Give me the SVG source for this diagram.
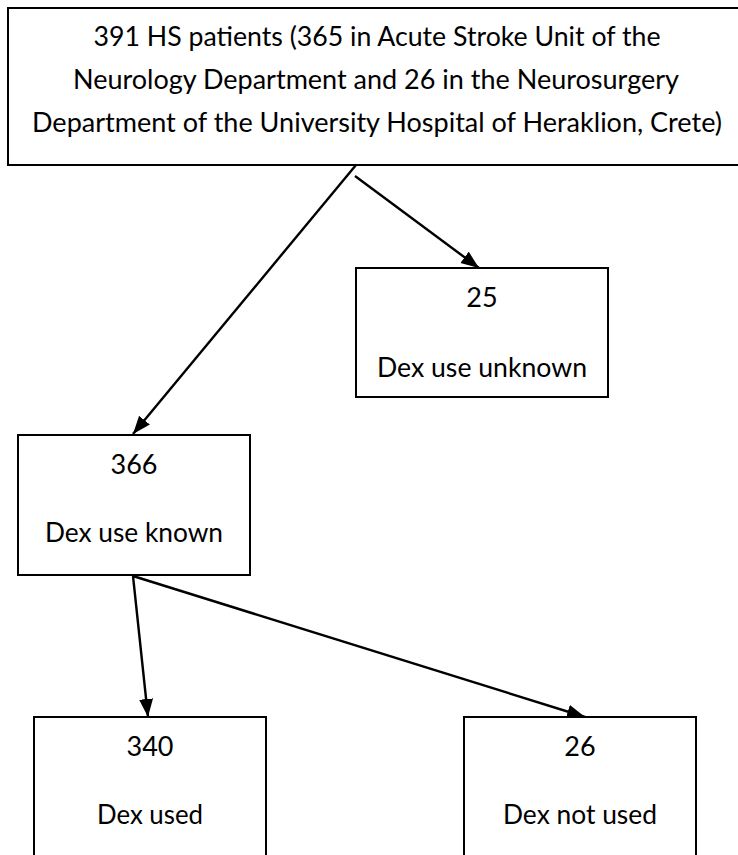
<svg xmlns="http://www.w3.org/2000/svg" width="738" height="855" viewBox="0 0 738 855">
<style>
  .box { fill: #ffffff; stroke: #000000; stroke-width: 2; }
  .t { font-family: Lato, "Open Sans", "Liberation Sans", sans-serif; font-size: 27px; fill: #000000; text-anchor: middle; }
  .link { fill: none; stroke: #000000; stroke-width: 2.4; }
</style>
<defs>
  <marker id="arrow" markerUnits="userSpaceOnUse" markerWidth="20" markerHeight="16" refX="18" refY="7" orient="auto">
    <path d="M0,0 L18,7 L0,14 z" fill="#000000"/>
  </marker>
</defs>
<rect width="738" height="855" fill="#ffffff"/>
<g id="connectors">
  <line class="link" x1="356" y1="165" x2="133" y2="434" marker-end="url(#arrow)"/>
  <line class="link" x1="355" y1="176" x2="479" y2="268" marker-end="url(#arrow)"/>
  <line class="link" x1="133" y1="576" x2="148" y2="717" marker-end="url(#arrow)"/>
  <line class="link" x1="133" y1="576" x2="585" y2="717" marker-end="url(#arrow)"/>
</g>
<g id="node-total">
  <rect class="box" x="8" y="8" width="740" height="157"/>
  <text class="t" x="377" y="46" textLength="567" lengthAdjust="spacingAndGlyphs">391 HS patients (365 in Acute Stroke Unit of the</text>
  <text class="t" x="376" y="89" textLength="606" lengthAdjust="spacingAndGlyphs">Neurology Department and 26 in the Neurosurgery</text>
  <text class="t" x="377" y="132" textLength="690" lengthAdjust="spacingAndGlyphs">Department of the University Hospital of Heraklion, Crete)</text>
</g>
<g id="node-unknown">
  <rect class="box" x="356" y="268" width="252" height="129"/>
  <text class="t" x="482" y="307">25</text>
  <text class="t" x="482" y="377" textLength="210" lengthAdjust="spacingAndGlyphs">Dex use unknown</text>
</g>
<g id="node-known">
  <rect class="box" x="18" y="435" width="232" height="140"/>
  <text class="t" x="134" y="474">366</text>
  <text class="t" x="134" y="542" textLength="178" lengthAdjust="spacingAndGlyphs">Dex use known</text>
</g>
<g id="node-used">
  <rect class="box" x="34" y="717" width="232" height="150"/>
  <text class="t" x="150" y="756">340</text>
  <text class="t" x="150" y="824" textLength="106" lengthAdjust="spacingAndGlyphs">Dex used</text>
</g>
<g id="node-notused">
  <rect class="box" x="464" y="717" width="232" height="150"/>
  <text class="t" x="580" y="756">26</text>
  <text class="t" x="580" y="824" textLength="154" lengthAdjust="spacingAndGlyphs">Dex not used</text>
</g>
</svg>
